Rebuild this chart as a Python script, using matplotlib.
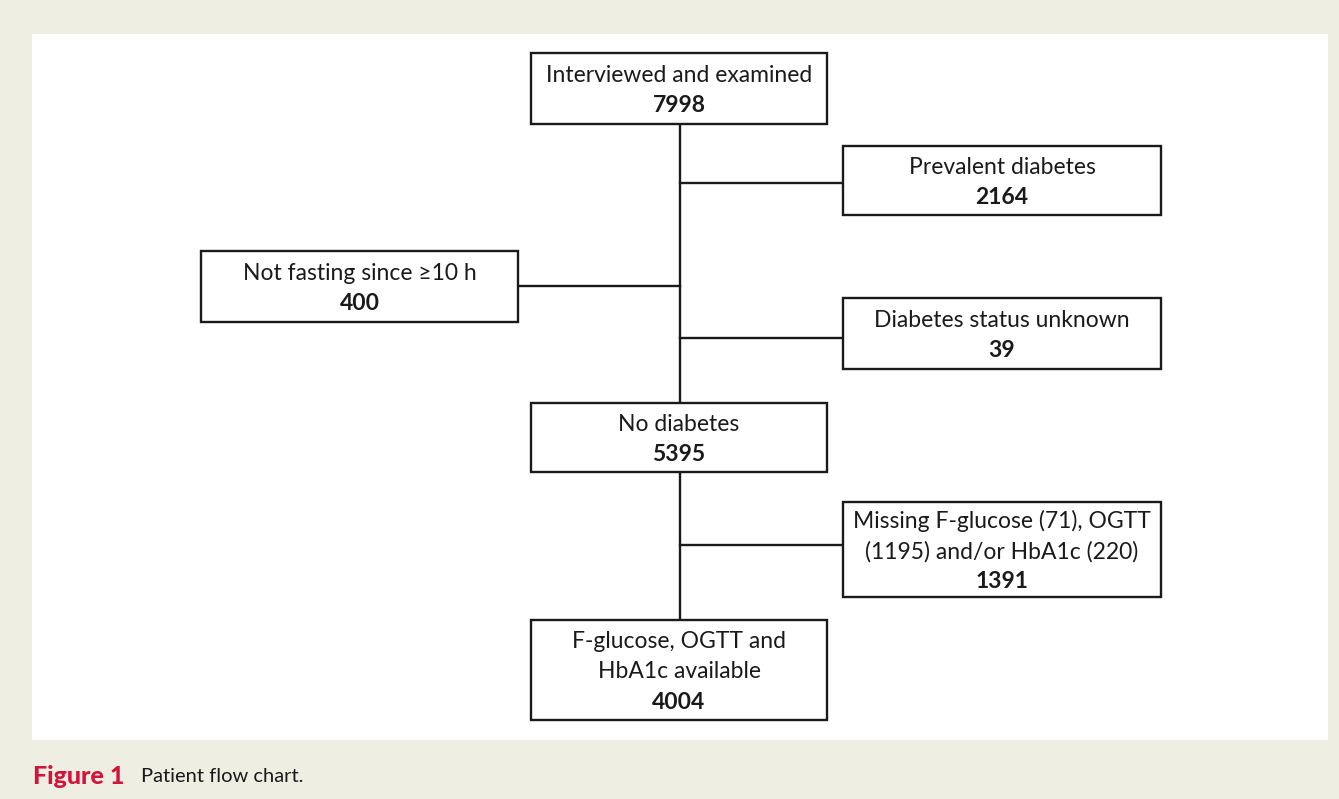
import matplotlib
matplotlib.use("Agg")
import matplotlib.pyplot as plt
from matplotlib.patches import Rectangle

# ---- data ----
box_labels = [
    "Interviewed and examined",
    "Prevalent diabetes",
    "Not fasting since \u226510 h",
    "Diabetes status unknown",
    "No diabetes",
    "Missing F-glucose (71), OGTT\n(1195) and/or HbA1c (220)",
    "F-glucose, OGTT and\nHbA1c available",
]
box_counts = [7998, 2164, 400, 39, 5395, 1391, 4004]
caption_label = "Figure 1"
caption_text = "Patient flow chart."

# ---- layout (pixel coordinates: x0, y0, x1, y1) ----
boxes = [
    (531, 53, 827, 124),
    (843, 146, 1161, 215),
    (201, 251, 518, 322),
    (843, 298, 1161, 369),
    (531, 403, 827, 472),
    (843, 502, 1161, 597),
    (531, 620, 827, 720),
]
spine_x = 680
branches = [(1, 183), (2, 286), (3, 338), (5, 545)]

W, H = 1339, 799
fig = plt.figure(figsize=(W / 100, H / 100), dpi=100)
fig.patch.set_facecolor("#efeee3")
ax = fig.add_axes([0, 0, 1, 1])
ax.set_xlim(0, W)
ax.set_ylim(H, 0)
ax.axis("off")

ax.add_patch(Rectangle((32, 34), 1296, 706, facecolor="white", edgecolor="none", zorder=0))

lc = "#1a1a1a"
lw = 1.7
font = ["Lato", "DejaVu Sans"]

for (x0, y0, x1, y1), lab, cnt in zip(boxes, box_labels, box_counts):
    ax.add_patch(Rectangle((x0, y0), x1 - x0, y1 - y0, facecolor="white",
                           edgecolor=lc, linewidth=lw, zorder=2))
    cx = (x0 + x1) / 2
    lines = lab.split("\n") + [str(cnt)]
    total = len(lines)
    step = 30.5
    cy = (y0 + y1) / 2 + 2
    start = cy - step * (total - 1) / 2
    for i, ln in enumerate(lines):
        bold = i == total - 1
        ax.text(cx, start + i * step, ln, ha="center", va="center",
                fontsize=16.5, fontweight="bold" if bold else "normal",
                family=font, color="#1a1a1a", zorder=3)

# vertical spine
ax.plot([spine_x, spine_x], [boxes[0][3], boxes[4][1]], color=lc, lw=lw, zorder=1)
ax.plot([spine_x, spine_x], [boxes[4][3], boxes[6][1]], color=lc, lw=lw, zorder=1)
for idx, y in branches:
    x0, y0, x1, y1 = boxes[idx]
    xe = x0 if x0 > spine_x else x1
    ax.plot([spine_x, xe], [y, y], color=lc, lw=lw, zorder=1)

ax.text(33, 776, caption_label, ha="left", va="center", fontsize=18,
        fontweight="black", family=font, color="#d2143a")
ax.text(141, 777, caption_text, ha="left", va="center", fontsize=14.5,
        family=font, color="#1a1a1a")

fig.savefig("out.png", dpi=100, facecolor=fig.get_facecolor())
